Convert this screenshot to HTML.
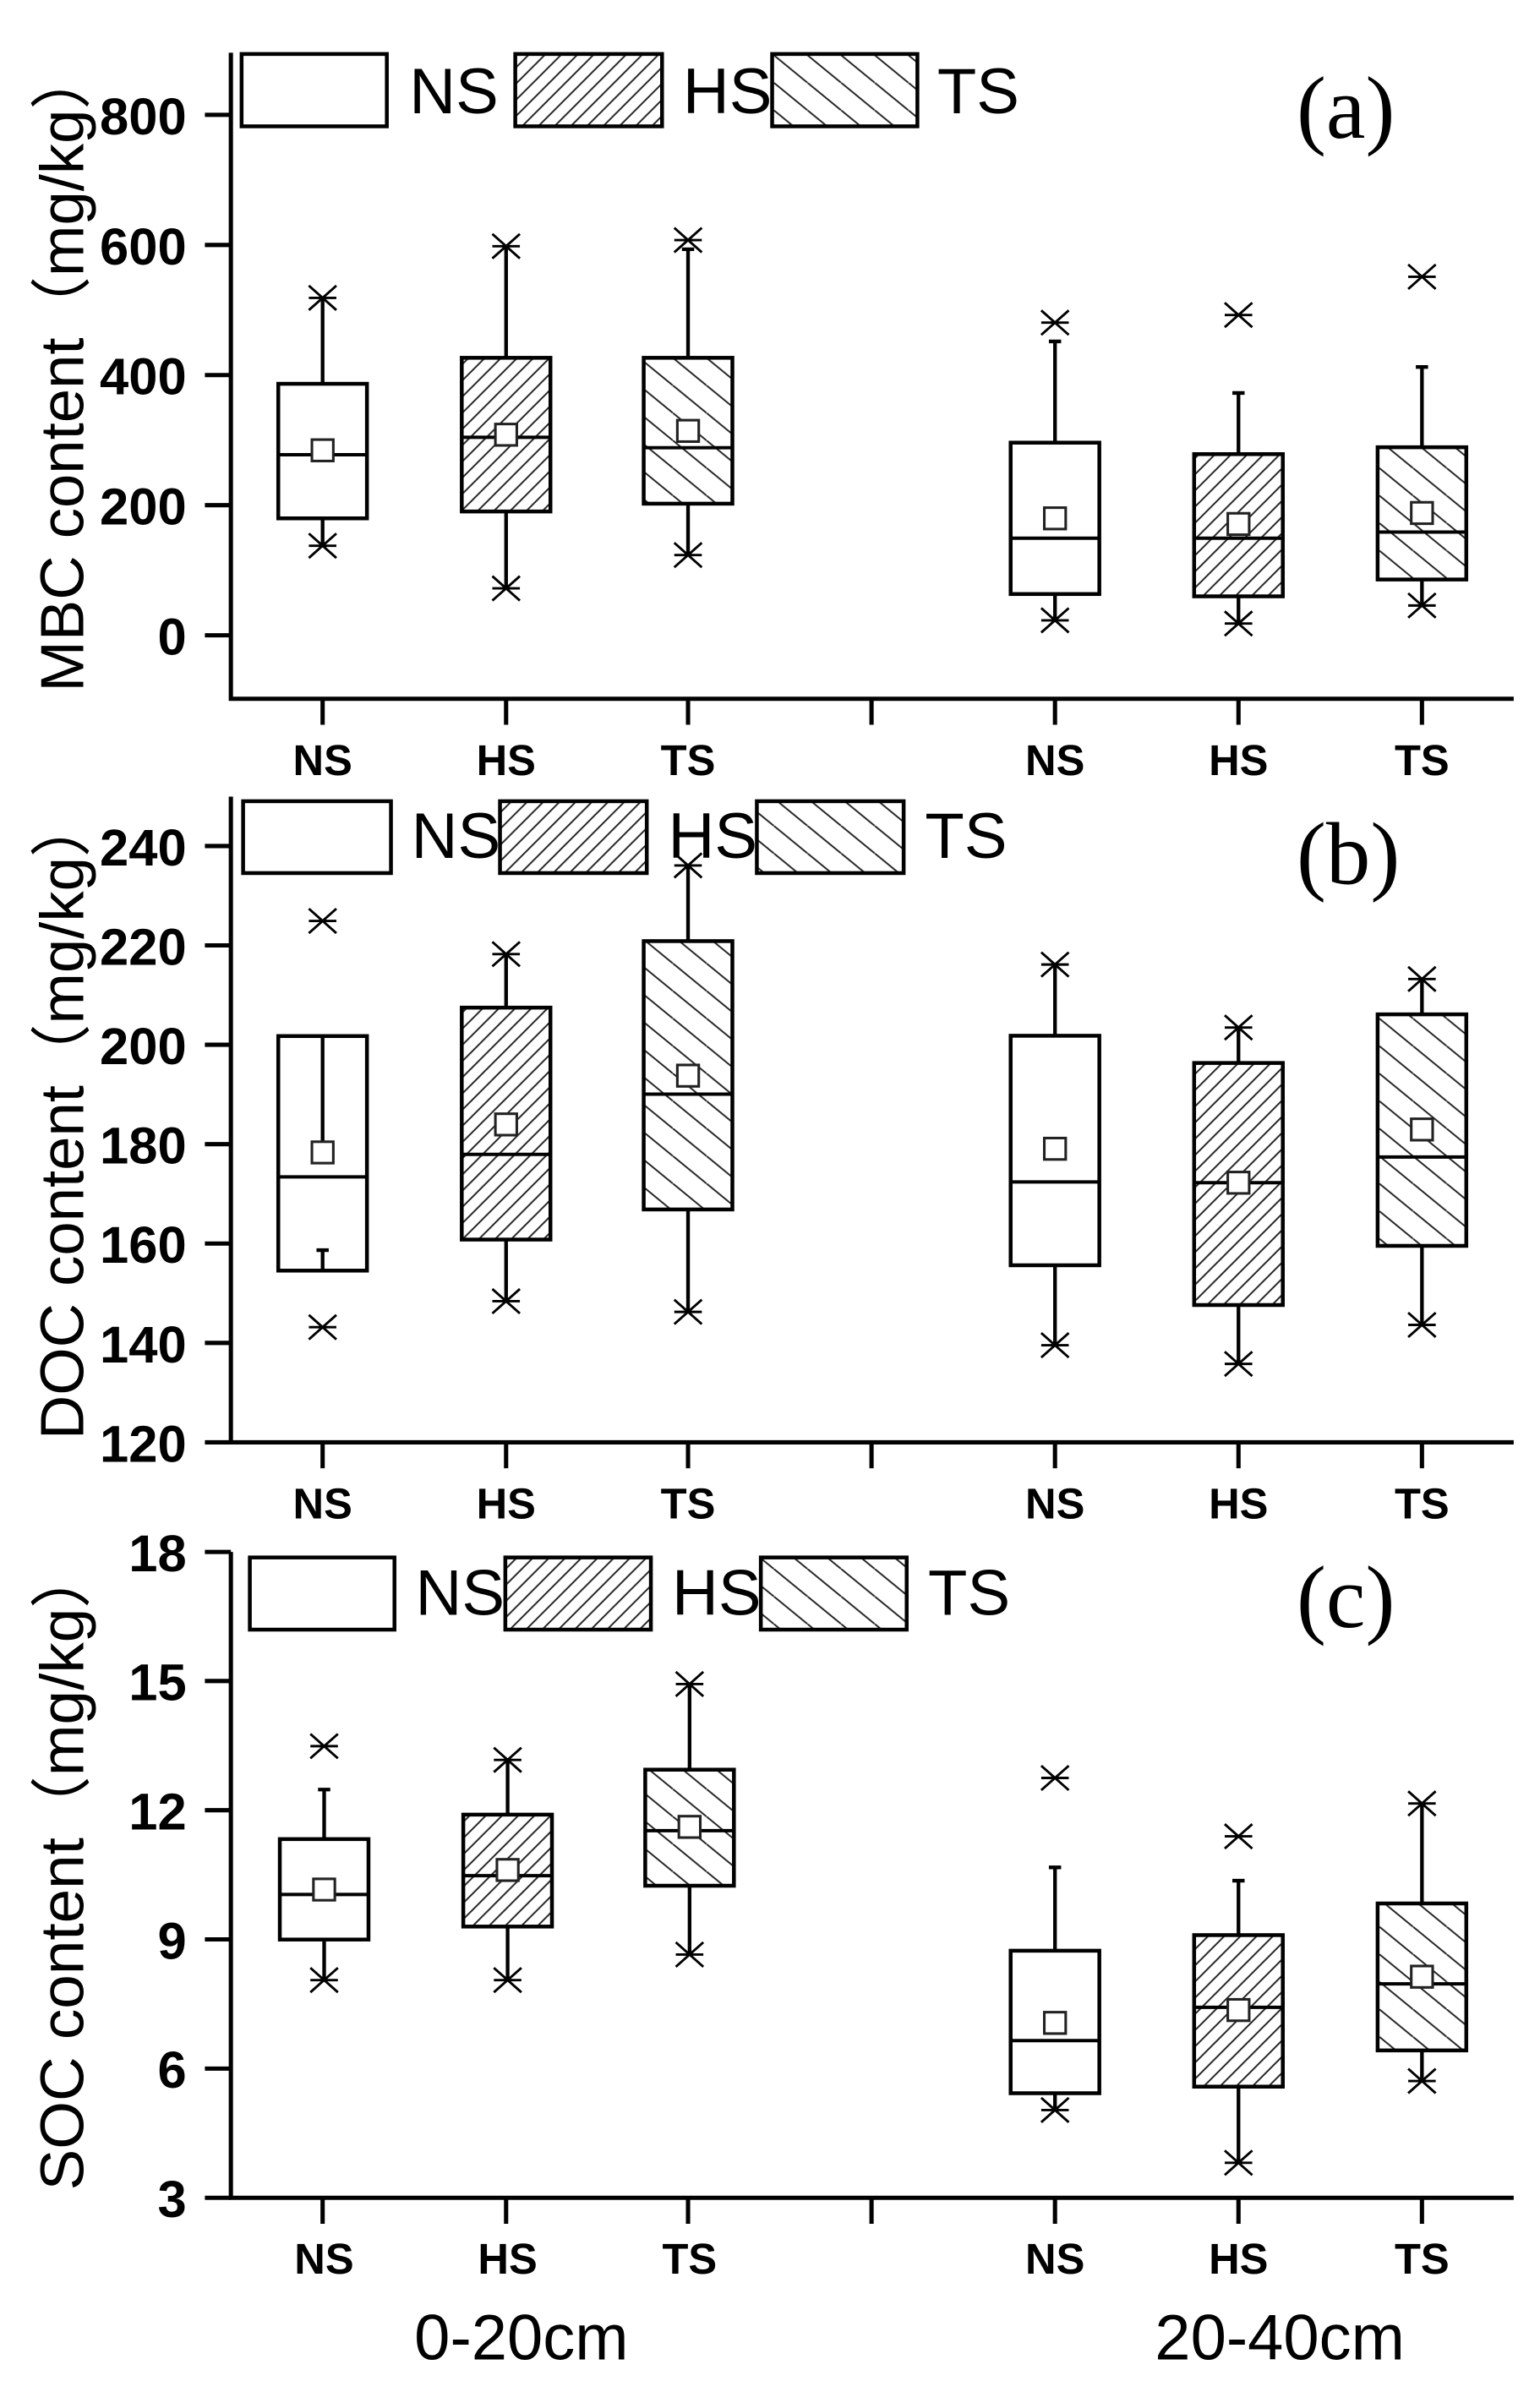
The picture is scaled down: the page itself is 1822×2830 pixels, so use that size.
<!DOCTYPE html>
<html><head><meta charset="utf-8"><style>
html,body{margin:0;padding:0;background:#fff}
svg{display:block}
text{font-family:"Liberation Sans","Noto Sans CJK SC",sans-serif;fill:#000}
.tk{font-weight:bold;font-size:34px;text-anchor:end}
.xl{font-weight:bold;font-size:28px;text-anchor:middle}
.lg{font-size:42px}
.pl{font-family:"Liberation Serif",serif;font-size:58px}
.yl{font-size:40px;text-anchor:middle}
.ax{stroke:#000;stroke-width:2.8;fill:none}
.bx{stroke:#000;stroke-width:2.5}
.wh{stroke:#000;stroke-width:2.4}
.md{stroke:#000;stroke-width:2.2}
.mn{fill:#fff;stroke:#222;stroke-width:1.7}
.st{stroke:#000;stroke-width:1.6}
</style></head><body>
<svg width="1822" height="2830" viewBox="0 0 1007.2 1564.4" xmlns="http://www.w3.org/2000/svg">
<defs>
<pattern id="hs" patternUnits="userSpaceOnUse" width="10.6" height="10.6">
<path d="M-2,12.6 L12.6,-2 M-2,2 L2,-2 M8.6,12.6 L12.6,8.6" stroke="#222" stroke-width="1.1"/>
</pattern>
<pattern id="ts" patternUnits="userSpaceOnUse" width="22" height="18">
<path d="M0,0 L22,18 M-11,9 L0,18 M11,-9 L22,0 M11,9 L22,18 M0,0 L11,9" stroke="#222" stroke-width="1.1"/>
</pattern>
<g id="s"><path d="M-9,0H9M-9,-8L9,8M-9,8L9,-8" class="st"/></g>
</defs>
<rect width="1007.2" height="1564.4" fill="#fff"/>

<!-- ============ Panel A ============ -->
<path class="ax" d="M151,34.5V457H990"/>
<path class="ax" d="M134,415.5H151M134,330.4H151M134,245.3H151M134,160.2H151M134,75.1H151"/>
<path class="ax" d="M211,457v17M331,457v17M450,457v17M570,457v17M690,457v17M810,457v17M930,457v17"/>
<text class="tk" x="122" y="428">0</text>
<text class="tk" x="122" y="343">200</text>
<text class="tk" x="122" y="258">400</text>
<text class="tk" x="122" y="173">600</text>
<text class="tk" x="122" y="88">800</text>
<text class="xl" x="211" y="507">NS</text><text class="xl" x="331" y="507">HS</text><text class="xl" x="450" y="507">TS</text>
<text class="xl" x="690" y="507">NS</text><text class="xl" x="810" y="507">HS</text><text class="xl" x="930" y="507">TS</text>
<text class="yl" transform="translate(54.5,242) rotate(-90)" textLength="421" lengthAdjust="spacingAndGlyphs">MBC content（mg/kg）</text>
<rect x="158" y="35.3" width="95" height="47.3" fill="#fff" class="bx"/>
<text class="lg" x="267.7" y="74">NS</text>
<rect x="337" y="35.3" width="96" height="47.3" fill="url(#hs)" class="bx"/>
<text class="lg" x="446.6" y="74">HS</text>
<rect x="505" y="35.3" width="95" height="47.3" fill="url(#ts)" class="bx"/>
<text class="lg" x="613" y="74">TS</text>
<text class="pl" x="848" y="90">(a)</text>

<path class="wh" d="M211,194.8V251M211,339V356.9"/>
<rect x="182" y="251" width="58" height="88" fill="#fff" class="bx"/>
<path class="md" d="M182,297.4H240"/><rect class="mn" x="204" y="287.5" width="14" height="14"/>
<use href="#s" x="211" y="194.8"/><use href="#s" x="211" y="356.9"/>

<path class="wh" d="M331,161V234M331,334.5V384.8"/>
<rect x="302" y="234" width="58" height="100.5" fill="url(#hs)" class="bx"/>
<path class="md" d="M302,286H360"/><rect class="mn" x="324" y="277.3" width="14" height="14"/>
<use href="#s" x="331" y="161"/><use href="#s" x="331" y="384.8"/>

<path class="wh" d="M450,163V234M450,329.4V363M446,163H454"/>
<rect x="421" y="234" width="58" height="95.4" fill="url(#ts)" class="bx"/>
<path class="md" d="M421,292.8H479"/><rect class="mn" x="443" y="274.8" width="14" height="14"/>
<use href="#s" x="450" y="157"/><use href="#s" x="450" y="363"/>

<path class="wh" d="M690,223.3V289.5M690,388.5V405.7M686,223.3H694"/>
<rect x="661" y="289.5" width="58" height="99" fill="#fff" class="bx"/>
<path class="md" d="M661,352H719"/><rect class="mn" x="683" y="332" width="14" height="14"/>
<use href="#s" x="690" y="211"/><use href="#s" x="690" y="405.7"/>

<path class="wh" d="M810,257V297M810,390V407.8M806,257H814"/>
<rect x="781" y="297" width="58" height="93" fill="url(#hs)" class="bx"/>
<path class="md" d="M781,352H839"/><rect class="mn" x="803" y="335.7" width="14" height="14"/>
<use href="#s" x="810" y="206"/><use href="#s" x="810" y="407.8"/>

<path class="wh" d="M930,240V292.5M930,379V396M926,240H934"/>
<rect x="901" y="292.5" width="58" height="86.5" fill="url(#ts)" class="bx"/>
<path class="md" d="M901,348H959"/><rect class="mn" x="923" y="328.5" width="14" height="14"/>
<use href="#s" x="930" y="181"/><use href="#s" x="930" y="396"/>

<!-- ============ Panel B ============ -->
<path class="ax" d="M151,521V943.3H990"/>
<path class="ax" d="M134,943.3H151M134,878.3H151M134,813.3H151M134,748.3H151M134,683.3H151M134,618.3H151M134,553.3H151"/>
<path class="ax" d="M211,943.3v17M331,943.3v17M450,943.3v17M570,943.3v17M690,943.3v17M810,943.3v17M930,943.3v17"/>
<text class="tk" x="122" y="956">120</text>
<text class="tk" x="122" y="891">140</text>
<text class="tk" x="122" y="826">160</text>
<text class="tk" x="122" y="761">180</text>
<text class="tk" x="122" y="696">200</text>
<text class="tk" x="122" y="631">220</text>
<text class="tk" x="122" y="566">240</text>
<text class="xl" x="211" y="993">NS</text><text class="xl" x="331" y="993">HS</text><text class="xl" x="450" y="993">TS</text>
<text class="xl" x="690" y="993">NS</text><text class="xl" x="810" y="993">HS</text><text class="xl" x="930" y="993">TS</text>
<text class="yl" transform="translate(54.5,731) rotate(-90)" textLength="421" lengthAdjust="spacingAndGlyphs">DOC content（mg/kg）</text>
<rect x="159" y="524" width="96.7" height="47" fill="#fff" class="bx"/>
<text class="lg" x="269" y="561">NS</text>
<rect x="327" y="524" width="96" height="47" fill="url(#hs)" class="bx"/>
<text class="lg" x="437" y="561">HS</text>
<rect x="495" y="524" width="96" height="47" fill="url(#ts)" class="bx"/>
<text class="lg" x="605" y="561">TS</text>
<text class="pl" x="848" y="578">(b)</text>

<rect x="182" y="677.6" width="58" height="153.4" fill="#fff" class="bx"/>
<path class="wh" d="M211,677.6V747M211,817.6V831M207,817.6H215"/>
<path class="md" d="M182,769.7H240"/><rect class="mn" x="204" y="746.7" width="14" height="14"/>
<use href="#s" x="211" y="602.3"/><use href="#s" x="211" y="868"/>

<path class="wh" d="M331,624V659M331,810.7V851"/>
<rect x="302" y="659" width="58" height="151.7" fill="url(#hs)" class="bx"/>
<path class="md" d="M302,755H360"/><rect class="mn" x="324" y="728.4" width="14" height="14"/>
<use href="#s" x="331" y="624"/><use href="#s" x="331" y="851"/>

<path class="wh" d="M450,566V615.5M450,791V858"/>
<rect x="421" y="615.5" width="58" height="175.5" fill="url(#ts)" class="bx"/>
<path class="md" d="M421,715.6H479"/><rect class="mn" x="443" y="696.5" width="14" height="14"/>
<use href="#s" x="450" y="566"/><use href="#s" x="450" y="858"/>

<path class="wh" d="M690,630.8V677.4M690,827.5V879.8"/>
<rect x="661" y="677.4" width="58" height="150.1" fill="#fff" class="bx"/>
<path class="md" d="M661,773H719"/><rect class="mn" x="683" y="744.3" width="14" height="14"/>
<use href="#s" x="690" y="630.8"/><use href="#s" x="690" y="879.8"/>

<path class="wh" d="M810,672V695.2M810,853.5V892"/>
<rect x="781" y="695.2" width="58" height="158.3" fill="url(#hs)" class="bx"/>
<path class="md" d="M781,773.5H839"/><rect class="mn" x="803" y="766.5" width="14" height="14"/>
<use href="#s" x="810" y="672"/><use href="#s" x="810" y="892"/>

<path class="wh" d="M930,640.3V663.4M930,814.8V866.5"/>
<rect x="901" y="663.4" width="58" height="151.4" fill="url(#ts)" class="bx"/>
<path class="md" d="M901,756.7H959"/><rect class="mn" x="923" y="731.7" width="14" height="14"/>
<use href="#s" x="930" y="640.3"/><use href="#s" x="930" y="866.5"/>

<!-- ============ Panel C ============ -->
<path class="ax" d="M151,1015V1437.4H990"/>
<path class="ax" d="M134,1437.4H151M134,1352.9H151M134,1268.4H151M134,1183.9H151M134,1099.4H151M134,1015H151"/>
<path class="ax" d="M211,1437.4v17M331,1437.4v17M450,1437.4v17M570,1437.4v17M690,1437.4v17M810,1437.4v17M930,1437.4v17"/>
<text class="tk" x="122" y="1450">3</text>
<text class="tk" x="122" y="1365.5">6</text>
<text class="tk" x="122" y="1281">9</text>
<text class="tk" x="122" y="1196.5">12</text>
<text class="tk" x="122" y="1112">15</text>
<text class="tk" x="122" y="1027.6">18</text>
<text class="xl" x="212" y="1487">NS</text><text class="xl" x="332" y="1487">HS</text><text class="xl" x="451" y="1487">TS</text>
<text class="xl" x="690" y="1487">NS</text><text class="xl" x="810" y="1487">HS</text><text class="xl" x="930" y="1487">TS</text>
<text class="yl" transform="translate(54.5,1222) rotate(-90)" textLength="421" lengthAdjust="spacingAndGlyphs">SOC content（mg/kg）</text>
<rect x="163.4" y="1018.6" width="94.6" height="47.2" fill="#fff" class="bx"/>
<text class="lg" x="271.7" y="1056">NS</text>
<rect x="330.5" y="1018.6" width="95.2" height="47.2" fill="url(#hs)" class="bx"/>
<text class="lg" x="439.5" y="1056">HS</text>
<rect x="497.6" y="1018.6" width="95.4" height="47.2" fill="url(#ts)" class="bx"/>
<text class="lg" x="607" y="1056">TS</text>
<text class="pl" x="848" y="1064">(c)</text>

<path class="wh" d="M212,1170.4V1202.8M212,1268.5V1295M208,1170.4H216"/>
<rect x="183" y="1202.8" width="58" height="65.7" fill="#fff" class="bx"/>
<path class="md" d="M183,1239H241"/><rect class="mn" x="205" y="1228.8" width="14" height="14"/>
<use href="#s" x="212" y="1142"/><use href="#s" x="212" y="1295"/>

<path class="wh" d="M332,1151V1186.8M332,1260V1295"/>
<rect x="303" y="1186.8" width="58" height="73.2" fill="url(#hs)" class="bx"/>
<path class="md" d="M303,1226.7H361"/><rect class="mn" x="325" y="1216" width="14" height="14"/>
<use href="#s" x="332" y="1151"/><use href="#s" x="332" y="1295"/>

<path class="wh" d="M451,1101.4V1157.4M451,1233.3V1278.3"/>
<rect x="422" y="1157.4" width="58" height="75.9" fill="url(#ts)" class="bx"/>
<path class="md" d="M422,1197.3H480"/><rect class="mn" x="444" y="1187.8" width="14" height="14"/>
<use href="#s" x="451" y="1101.4"/><use href="#s" x="451" y="1278.3"/>

<path class="wh" d="M690,1221.3V1275.8M690,1369V1380M686,1221.3H694"/>
<rect x="661" y="1275.8" width="58" height="93.2" fill="#fff" class="bx"/>
<path class="md" d="M661,1334.6H719"/><rect class="mn" x="683" y="1316" width="14" height="14"/>
<use href="#s" x="690" y="1162.8"/><use href="#s" x="690" y="1380"/>

<path class="wh" d="M810,1230V1265.6M810,1364.7V1414.5M806,1230H814"/>
<rect x="781" y="1265.6" width="58" height="99.1" fill="url(#hs)" class="bx"/>
<path class="md" d="M781,1312.8H839"/><rect class="mn" x="803" y="1307.6" width="14" height="14"/>
<use href="#s" x="810" y="1201"/><use href="#s" x="810" y="1414.5"/>

<path class="wh" d="M930,1179.5V1244.9M930,1341V1361"/>
<rect x="901" y="1244.9" width="58" height="96.1" fill="url(#ts)" class="bx"/>
<path class="md" d="M901,1297.5H959"/><rect class="mn" x="923" y="1285.8" width="14" height="14"/>
<use href="#s" x="930" y="1179.5"/><use href="#s" x="930" y="1361"/>

<text x="341" y="1543" style="font-size:42px;text-anchor:middle">0-20cm</text>
<text x="837" y="1543" style="font-size:42px;text-anchor:middle">20-40cm</text>
</svg>
</body></html>
